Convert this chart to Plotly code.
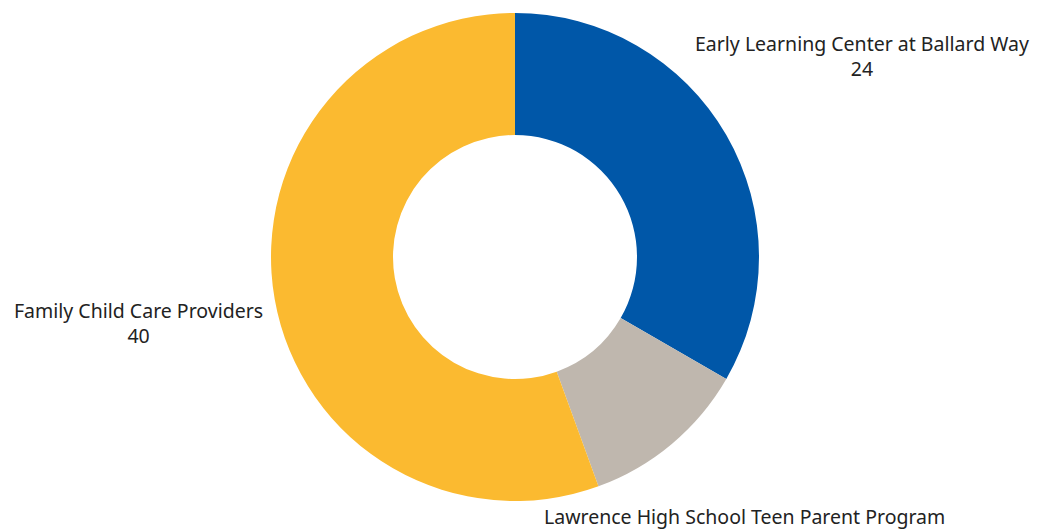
import plotly.graph_objects as go

labels = ["Early Learning Center at Ballard Way", "Lawrence High School Teen Parent Program", "Family Child Care Providers"]
values = [24, 8, 40]
colors = ["#0057A8", "#BFB7AE", "#FBBA30"]
# the reference crops the Lawrence value off the bottom edge; only its name is shown
show_value = [True, False, True]

W, H = 1037, 529
cx, cy, R = 515, 257, 244

fig = go.Figure(go.Pie(
    labels=labels, values=values, hole=0.5, sort=False, direction="clockwise", rotation=0,
    marker=dict(colors=colors, line=dict(width=0)), textinfo="none", hoverinfo="label+value",
    domain=dict(x=[(cx - R) / W, (cx + R) / W], y=[(H - cy - R) / H, (H - cy + R) / H]),
    showlegend=False,
))

# label anchor positions (pixel centers)
label_pos = [(862, 56), (744, 516), (138, 323)]
for lab, val, sv, (px, py) in zip(labels, values, show_value, label_pos):
    txt = f"{lab}<br>{val}" if sv else lab
    fig.add_annotation(text=txt, x=px / W, y=(H - py) / H, xref="paper", yref="paper",
                       xanchor="center", yanchor="middle", showarrow=False, align="center",
                       font=dict(family="Noto Sans", size=19.5, color="#222222"))

fig.update_layout(width=W, height=H, margin=dict(l=0, r=0, t=0, b=0),
                  paper_bgcolor="white", plot_bgcolor="white")
fig.write_html("out.html")
